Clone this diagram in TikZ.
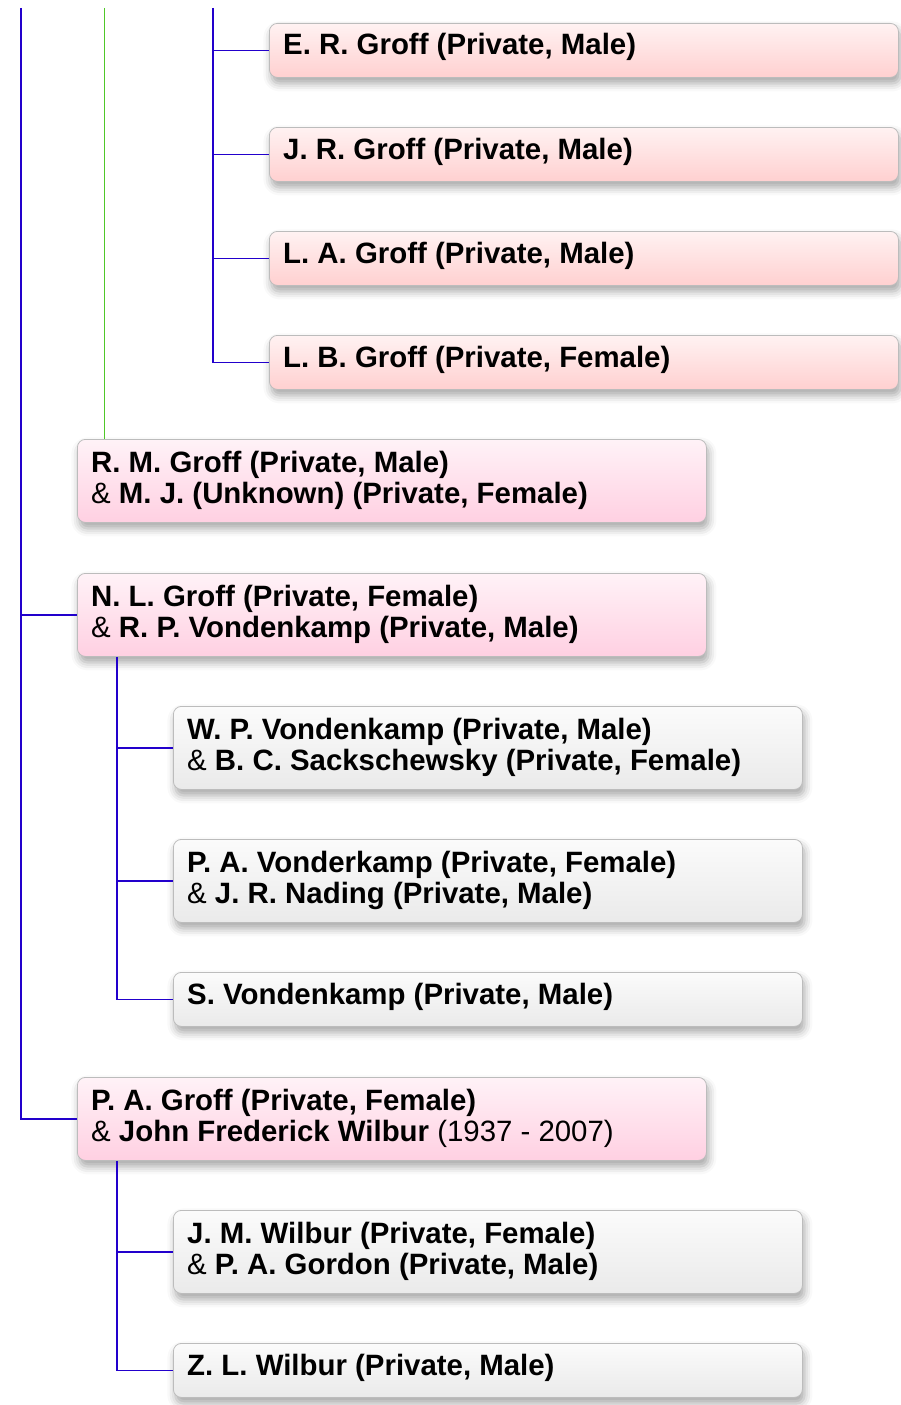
\documentclass[tikz,border=0pt]{standalone}
\usepackage{fontspec}
\setmainfont{Liberation Sans}
\usetikzlibrary{shadows.blur}
\definecolor{redtop}{RGB}{255,242,242}
\definecolor{redbot}{RGB}{255,208,208}
\definecolor{pinktop}{RGB}{255,242,247}
\definecolor{pinkbot}{RGB}{255,208,226}
\definecolor{graytop}{RGB}{251,251,251}
\definecolor{graybot}{RGB}{234,234,234}
\definecolor{boxborder}{RGB}{188,188,188}
\definecolor{linkblue}{RGB}{34,0,204}
\definecolor{linkgreen}{RGB}{80,200,40}
\begin{document}
\begin{tikzpicture}[x=1pt,y=-1pt,
  box/.style={draw=boxborder, line width=0.8pt, rounded corners=8pt,
    minimum width=629pt, anchor=north west, inner sep=0pt,
    blur shadow={shadow xshift=2pt, shadow yshift=-6pt, shadow blur radius=8pt, shadow opacity=35}},
  one/.style={minimum height=54pt},
  two/.style={minimum height=83pt},
  redbox/.style={box, top color=redtop, bottom color=redbot},
  pinkbox/.style={box, top color=pinktop, bottom color=pinkbot},
  graybox/.style={box, top color=graytop, bottom color=graybot},
  txt/.style={anchor=base west, inner sep=0pt, font=\fontsize{29.4}{31}\selectfont},
  link/.style={draw=linkblue, line width=1.2pt},
  glink/.style={draw=linkgreen, line width=1pt}]
\useasboundingbox (0,0) rectangle (901,1405);

% boxes
\node[redbox, one] (e) at (269,23) {};
\node[redbox, one] (j) at (269,127) {};
\node[redbox, one] (la) at (269,231) {};
\node[redbox, one] (lb) at (269,335) {};
\node[pinkbox, two] (rm) at (77,439) {};
\node[pinkbox, two] (nl) at (77,573) {};
\node[graybox, two] (wp) at (173,706) {};
\node[graybox, two] (pav) at (173,839) {};
\node[graybox, one] (s) at (173,972) {};
\node[pinkbox, two] (pa) at (77,1077) {};
\node[graybox, two] (jm) at (173,1210) {};
\node[graybox, one] (zl) at (173,1343) {};

% texts
\node[txt] (te) at ([xshift=14pt,yshift=-32pt]e.north west) {\textbf{E. R. Groff (Private, Male)}};
\node[txt] (tj) at ([xshift=14pt,yshift=-32pt]j.north west) {\textbf{J. R. Groff (Private, Male)}};
\node[txt] (tla) at ([xshift=14pt,yshift=-32pt]la.north west) {\textbf{L. A. Groff (Private, Male)}};
\node[txt] (tlb) at ([xshift=14pt,yshift=-32pt]lb.north west) {\textbf{L. B. Groff (Private, Female)}};
\node[txt] (trm1) at ([xshift=14pt,yshift=-33pt]rm.north west) {\textbf{R. M. Groff (Private, Male)}};
\node[txt] (trm2) at ([xshift=14pt,yshift=-64pt]rm.north west) {\& \textbf{M. J. (Unknown) (Private, Female)}};
\node[txt] (tnl1) at ([xshift=14pt,yshift=-33pt]nl.north west) {\textbf{N. L. Groff (Private, Female)}};
\node[txt] (tnl2) at ([xshift=14pt,yshift=-64pt]nl.north west) {\& \textbf{R. P. Vondenkamp (Private, Male)}};
\node[txt] (twp1) at ([xshift=14pt,yshift=-33pt]wp.north west) {\textbf{W. P. Vondenkamp (Private, Male)}};
\node[txt] (twp2) at ([xshift=14pt,yshift=-64pt]wp.north west) {\& \textbf{B. C. Sackschewsky (Private, Female)}};
\node[txt] (tpav1) at ([xshift=14pt,yshift=-33pt]pav.north west) {\textbf{P. A. Vonderkamp (Private, Female)}};
\node[txt] (tpav2) at ([xshift=14pt,yshift=-64pt]pav.north west) {\& \textbf{J. R. Nading (Private, Male)}};
\node[txt] (ts) at ([xshift=14pt,yshift=-32pt]s.north west) {\textbf{S. Vondenkamp (Private, Male)}};
\node[txt] (tpa1) at ([xshift=14pt,yshift=-33pt]pa.north west) {\textbf{P. A. Groff (Private, Female)}};
\node[txt] (tpa2) at ([xshift=14pt,yshift=-64pt]pa.north west) {\& \textbf{John Frederick Wilbur} (1937 - 2007)};
\node[txt] (tjm1) at ([xshift=14pt,yshift=-33pt]jm.north west) {\textbf{J. M. Wilbur (Private, Female)}};
\node[txt] (tjm2) at ([xshift=14pt,yshift=-64pt]jm.north west) {\& \textbf{P. A. Gordon (Private, Male)}};
\node[txt] (tzl) at ([xshift=14pt,yshift=-32pt]zl.north west) {\textbf{Z. L. Wilbur (Private, Male)}};

% connectors
\coordinate (t1) at (21,8);
\coordinate (t2) at (104,8);
\coordinate (t3) at (213,8);
\draw[link] (t1) |- (pa.west);
\draw[link] (t1 |- nl.west) -- (nl.west);
\draw[glink] (t2) -- (t2 |- rm.north);
\draw[link] (t3) |- (lb.west);
\draw[link] (t3 |- e.west) -- (e.west);
\draw[link] (t3 |- j.west) -- (j.west);
\draw[link] (t3 |- la.west) -- (la.west);
\coordinate (c1) at ([xshift=40pt]nl.south west);
\draw[link] (c1) |- (s.west);
\draw[link] (c1 |- wp.west) -- (wp.west);
\draw[link] (c1 |- pav.west) -- (pav.west);
\coordinate (c2) at ([xshift=40pt]pa.south west);
\draw[link] (c2) |- (zl.west);
\draw[link] (c2 |- jm.west) -- (jm.west);
\end{tikzpicture}
\end{document}
